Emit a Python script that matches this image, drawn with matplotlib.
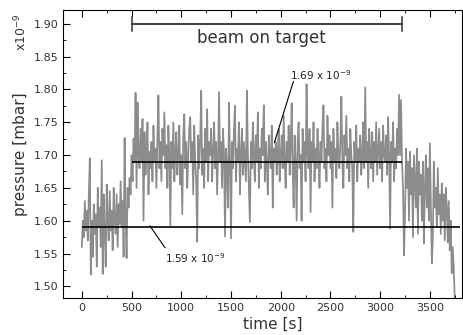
import numpy as np
import matplotlib
import matplotlib.pyplot as plt
from matplotlib.ticker import MultipleLocator

matplotlib.use('agg')

# pressure readings, one every 10 s (in units of 1e-9 mbar)
t_step = 10
pressure = [
    1.560, 1.600, 1.575, 1.630, 1.585, 1.615, 1.570, 1.640, 1.695, 1.518,
    1.600, 1.545, 1.625, 1.580, 1.610, 1.530, 1.650, 1.590, 1.620, 1.560,
    1.692, 1.519, 1.640, 1.580, 1.530, 1.655, 1.600, 1.570, 1.645, 1.585,
    1.615, 1.555, 1.650, 1.600, 1.580, 1.640, 1.560, 1.625, 1.595, 1.660,
    1.590, 1.630, 1.545, 1.726, 1.600, 1.543, 1.650, 1.620, 1.665, 1.640,
    1.700, 1.660, 1.725, 1.690, 1.795, 1.650, 1.780, 1.700, 1.680, 1.740,
    1.690, 1.755, 1.600, 1.735, 1.670, 1.700, 1.750, 1.640, 1.705, 1.680,
    1.720, 1.660, 1.745, 1.690, 1.710, 1.650, 1.730, 1.791, 1.680, 1.720,
    1.660, 1.740, 1.700, 1.765, 1.680, 1.715, 1.650, 1.745, 1.700, 1.593,
    1.720, 1.680, 1.750, 1.660, 1.705, 1.735, 1.670, 1.700, 1.745, 1.655,
    1.700, 1.610, 1.730, 1.762, 1.680, 1.720, 1.650, 1.700, 1.740, 1.758,
    1.690, 1.720, 1.640, 1.745, 1.690, 1.660, 1.568, 1.730, 1.680, 1.720,
    1.798, 1.670, 1.710, 1.650, 1.740, 1.690, 1.770, 1.660, 1.720, 1.700,
    1.740, 1.660, 1.700, 1.750, 1.680, 1.720, 1.640, 1.700, 1.796, 1.690,
    1.720, 1.650, 1.740, 1.700, 1.576, 1.710, 1.680, 1.620, 1.780, 1.690,
    1.573, 1.720, 1.680, 1.740, 1.775, 1.660, 1.710, 1.690, 1.750, 1.640,
    1.700, 1.740, 1.670, 1.720, 1.690, 1.660, 1.798, 1.700, 1.650, 1.598,
    1.720, 1.680, 1.750, 1.700, 1.660, 1.730, 1.690, 1.765, 1.650, 1.710,
    1.680, 1.740, 1.700, 1.776, 1.660, 1.720, 1.690, 1.640, 1.730, 1.700,
    1.680, 1.745, 1.620, 1.710, 1.690, 1.720, 1.670, 1.700, 1.740, 1.660,
    1.700, 1.730, 1.680, 1.760, 1.690, 1.650, 1.720, 1.690, 1.745, 1.670,
    1.710, 1.779, 1.680, 1.620, 1.730, 1.690, 1.600, 1.720, 1.750, 1.680,
    1.700, 1.600, 1.740, 1.690, 1.720, 1.660, 1.808, 1.700, 1.680, 1.740,
    1.613, 1.720, 1.690, 1.750, 1.660, 1.710, 1.680, 1.740, 1.700, 1.650,
    1.720, 1.690, 1.745, 1.776, 1.680, 1.710, 1.660, 1.760, 1.700, 1.730,
    1.680, 1.720, 1.620, 1.740, 1.690, 1.710, 1.665, 1.750, 1.700, 1.680,
    1.720, 1.789, 1.690, 1.650, 1.730, 1.700, 1.760, 1.680, 1.710, 1.660,
    1.740, 1.700, 1.680, 1.583, 1.720, 1.690, 1.745, 1.660, 1.710, 1.690,
    1.730, 1.670, 1.700, 1.750, 1.680, 1.803, 1.690, 1.720, 1.650, 1.740,
    1.700, 1.680, 1.735, 1.660, 1.720, 1.690, 1.750, 1.670, 1.705, 1.740,
    1.680, 1.720, 1.660, 1.745, 1.700, 1.690, 1.730, 1.670, 1.758, 1.700,
    1.588, 1.720, 1.690, 1.750, 1.660, 1.710, 1.680, 1.740, 1.700, 1.792,
    1.700, 1.784, 1.690, 1.650, 1.547, 1.610, 1.710, 1.650, 1.690, 1.600,
    1.705, 1.640, 1.680, 1.575, 1.700, 1.660, 1.620, 1.710, 1.580, 1.690,
    1.640, 1.670, 1.600, 1.690, 1.565, 1.650, 1.700, 1.620, 1.680, 1.600,
    1.718, 1.630, 1.535, 1.575, 1.690, 1.620, 1.650, 1.590, 1.680, 1.610,
    1.640, 1.580, 1.657, 1.600, 1.640, 1.570, 1.650, 1.620, 1.567, 1.630,
    1.555, 1.600, 1.520, 1.560, 1.530, 1.482,
]
time = np.arange(len(pressure)) * t_step

# mean levels before / during beam
level_off = 1.59
level_on = 1.69
off_range = (0, 3800)
beam_range = (500, 3220)

fig = plt.figure(figsize=(4.63, 3.35), dpi=100)
ax = fig.add_axes([0.136, 0.110, 0.862, 0.860])

ax.plot(time, pressure, color='#8c8c8c', lw=1.25, zorder=1)
ax.hlines(level_off, *off_range, color='k', lw=1.2, zorder=2)
ax.hlines(level_on, *beam_range, color='k', lw=1.2, zorder=2)

# beam on target bracket
ax.plot([beam_range[0], beam_range[1]], [1.90, 1.90], color='#444444', lw=1.5)
ax.plot([beam_range[0]] * 2, [1.889, 1.911], color='#444444', lw=1.2)
ax.plot([beam_range[1]] * 2, [1.889, 1.911], color='#444444', lw=1.2)
ax.text(1810, 1.879, 'beam on target', ha='center', va='center',
        fontsize=12, color='#333333')

# level labels
ax.plot([2127, 1936], [1.812, 1.719], color='k', lw=0.8)
ax.text(2094, 1.822, r'1.69 x 10$^{-9}$', fontsize=7.5, va='center', color='#222222')
ax.plot([685, 836], [1.592, 1.559], color='k', lw=0.8)
ax.text(838, 1.543, r'1.59 x 10$^{-9}$', fontsize=7.5, va='center', color='#222222')

ax.set_xlim(-190, 3824)
ax.set_ylim(1.482, 1.921)
ax.xaxis.set_major_locator(MultipleLocator(500))
ax.xaxis.set_minor_locator(MultipleLocator(250))
ax.yaxis.set_major_locator(MultipleLocator(0.05))
ax.yaxis.set_minor_locator(MultipleLocator(0.025))
ax.yaxis.set_major_formatter(matplotlib.ticker.FormatStrFormatter('%.2f'))
ax.tick_params(which='both', direction='in', top=True, right=False,
               labelsize=8, labelcolor='#333333')
ax.tick_params(which='major', length=5)
ax.tick_params(which='minor', length=2.5)

ax.set_xlabel('time [s]', fontsize=11, color='#333333', labelpad=1)
ax.xaxis.set_label_coords(0.525, -0.065)
ax.set_ylabel('pressure [mbar]', fontsize=11, color='#333333', labelpad=4)
fig.text(0.045, 0.905, r'x10$^{-9}$', rotation=90, fontsize=9,
         ha='center', va='center', color='#333333')

fig.savefig('out.png', dpi=100)
